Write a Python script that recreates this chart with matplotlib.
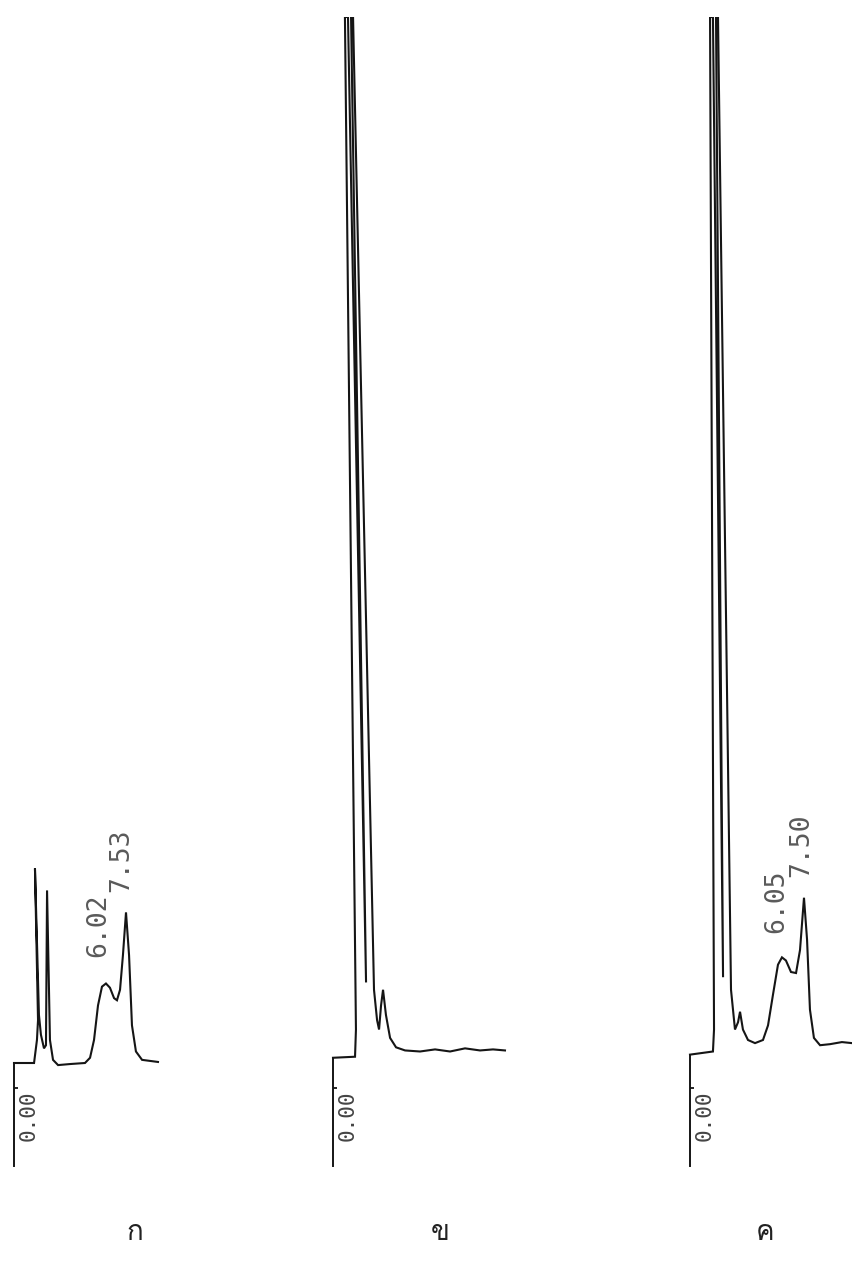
import matplotlib
matplotlib.use("Agg")
import matplotlib.pyplot as plt
from matplotlib import font_manager, ft2font

# chromatogram traces, time in min, detector signal in % of full scale
time_a = [0.00, 1.31, 1.50, 1.57, 1.37, 1.63, 1.76, 1.96, 2.09, 2.16, 2.35, 2.55, 2.88,
          3.66, 4.64, 4.97, 5.23, 5.49, 5.75, 6.01, 6.27, 6.54, 6.73, 6.93, 7.12, 7.32,
          7.52, 7.71, 7.97, 8.37, 8.89, 9.41]
signal_a = [0.0, 0.0, 2.2, 4.1, 18.6, 4.6, 2.7, 1.4, 1.7, 16.5, 2.2, 0.3, -0.2,
            -0.1, 0.0, 0.5, 2.2, 5.5, 7.3, 7.6, 7.2, 6.2, 6.0, 7.0, 10.3, 14.4,
            10.3, 3.6, 1.1, 0.3, 0.2, 0.1]

time_b = [0.00, 1.44, 1.50, 0.78, 0.98, 2.16, 1.18, 1.31, 2.68, 2.88, 3.01, 3.14, 3.27,
          3.46, 3.73, 4.12, 4.71, 5.69, 6.67, 7.65, 8.63, 9.61, 10.46, 11.24]
signal_b = [0.5, 0.6, 3.2, 100, 100, 7.7, 100, 100, 7.0, 4.1, 3.2, 5.5, 7.0,
            4.6, 2.4, 1.5, 1.2, 1.1, 1.3, 1.1, 1.4, 1.2, 1.3, 1.2]

time_c = [0.00, 1.50, 1.57, 1.31, 1.50, 2.16, 1.70, 1.83, 2.68, 2.94, 3.14, 3.27, 3.46,
          3.79, 4.25, 4.77, 5.10, 5.42, 5.75, 6.01, 6.27, 6.60, 6.93, 7.19, 7.45, 7.65,
          7.84, 8.10, 8.50, 9.15, 9.93, 10.59]
signal_c = [0.8, 1.1, 3.2, 100, 100, 8.2, 100, 100, 7.0, 3.2, 3.9, 4.9, 3.2,
            2.2, 1.9, 2.2, 3.6, 6.5, 9.4, 10.1, 9.8, 8.7, 8.6, 10.8, 15.8, 11.8,
            5.1, 2.4, 1.7, 1.8, 2.0, 1.9]

panel_names = ["ก", "ข", "ค"]
peak_labels_a = ["6.02", "7.53"]
peak_labels_c = ["6.05", "7.50"]

# find a font that has Thai letters
thai_font = "DejaVu Sans"
for f in font_manager.fontManager.ttflist:
    try:
        if 0x0E01 in ft2font.FT2Font(f.fname).get_charmap():
            thai_font = f.name
            break
    except Exception:
        pass

W, H = 852, 1269
fig = plt.figure(figsize=(W / 100, H / 100), dpi=100)

px_per_min = 15.3
top_px, zero_px = 17, 1063
px_per_unit = (zero_px - top_px) / 100
t_min, t_max = -1.0, 12.0
s_min = -12.0


def make_axes(x0):
    left = x0 + t_min * px_per_min
    width = (t_max - t_min) * px_per_min
    bottom = zero_px - s_min * px_per_unit
    ax = fig.add_axes([left / W, 1 - bottom / H, width / W, (bottom - top_px) / H])
    ax.set_xlim(t_min, t_max)
    ax.set_ylim(s_min, 100)
    ax.patch.set_alpha(0)
    for side in ["top", "right", "bottom"]:
        ax.spines[side].set_visible(False)
    ax.set_xticks([])
    return ax


def peak_label(ax, t, s, txt):
    ax.text(t, s, txt, rotation=90, ha="center", va="center",
            family="DejaVu Sans Mono", fontsize=19, color="#5a5a5a")


origins = [14, 333, 690]
traces = [(time_a, signal_a), (time_b, signal_b), (time_c, signal_c)]

for x0, (t, s) in zip(origins, traces):
    ax = make_axes(x0)
    ax.plot(t, s, color="#151515", lw=1.5, solid_joinstyle="miter")
    ax.spines["left"].set_position(("data", 0))
    ax.spines["left"].set_bounds(-9.8, s[0])
    ax.spines["left"].set_linewidth(1.4)
    ax.spines["left"].set_color("#151515")
    ax.set_yticks([-2.4])
    ax.tick_params(axis="y", direction="in", length=3, width=1.2, labelleft=False)
    ax.text(0.3, -2.6, "0.00", rotation=90, ha="left", va="top",
            family="DejaVu Sans Mono", fontsize=15, color="#444444")
    if x0 == 14:
        peak_label(ax, 5.5, 13.2, peak_labels_a[0])
        peak_label(ax, 7.0, 19.4, peak_labels_a[1])
    if x0 == 690:
        peak_label(ax, 5.65, 15.5, peak_labels_c[0])
        peak_label(ax, 7.3, 20.8, peak_labels_c[1])

for name, xpx in zip(panel_names, [135, 440, 765]):
    fig.text(xpx / W, 1 - 1233 / H, name, ha="center", va="center",
             family=[thai_font, "DejaVu Sans"], fontsize=20, color="#222222")

fig.savefig("out.png", dpi=100)
